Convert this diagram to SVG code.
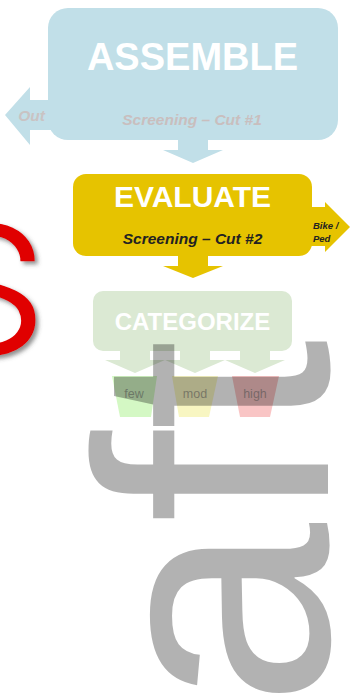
<svg xmlns="http://www.w3.org/2000/svg" width="358" height="699" viewBox="0 0 358 699">
<style>
  .t { font-family: "Liberation Sans", Arial, sans-serif; }
  .title { font-weight: bold; fill: #ffffff; text-anchor: middle; }
  .sub { font-weight: bold; font-style: italic; text-anchor: middle; font-size: 15.5px; }
  .lbl { font-size: 12.5px; text-anchor: middle; fill: #6a6a6a; fill-opacity: 0.55; }
  .blue { fill: #c1dfe8; }
  .gold { fill: #e6c300; }
  .green { fill: #dbe9d3; }
</style>
<defs>
  <filter id="shadow" x="-20%" y="-20%" width="150%" height="150%">
    <feDropShadow dx="3" dy="3" stdDeviation="2" flood-color="#444" flood-opacity="0.6"/>
  </filter>
</defs>

<g id="redMark">
  <text x="49" y="354" text-anchor="end" font-family="Roboto, 'Liberation Sans', sans-serif" font-weight="300" font-size="244" fill="#e00000" filter="url(#shadow)">s</text>
</g>

<g id="connectors">
  <polygon class="blue" points="60,100 30,100 30,87 5,115 30,145 30,130 60,130"/>
  <polygon class="blue" points="178,138 208,138 208,150 223,150 193,163 163,150 178,150"/>
  <polygon class="gold" points="300,207 325,207 325,202 350,227 325,252 325,246 300,246"/>
  <polygon class="gold" points="178,254 208,254 208,266 223,266 193,278 163,266 178,266"/>
  <rect class="green" x="120" y="349" width="30" height="12"/>
  <rect class="green" x="180" y="349" width="30" height="12"/>
  <rect class="green" x="240" y="349" width="30" height="12"/>
  <polygon class="green" points="105,360 165,360 135,373"/>
  <polygon class="green" points="165,360 225,360 195,373"/>
  <polygon class="green" points="225,360 285,360 255,373"/>
</g>

<g id="assemble">
  <rect class="blue" x="48" y="8" width="290" height="132" rx="20"/>
  <text class="t title" x="192.5" y="70" font-size="38">ASSEMBLE</text>
  <text class="t sub" x="192" y="125" fill="#c9bebe">Screening – Cut #1</text>
  <text class="t sub" x="31.5" y="121" fill="#c9c3c3">Out</text>
</g>

<g id="evaluate">
  <rect class="gold" x="73" y="174" width="239" height="82" rx="13"/>
  <text class="t title" x="192.5" y="207" font-size="30">EVALUATE</text>
  <text class="t sub" x="192.5" y="244" fill="#222222">Screening – Cut #2</text>
  <text class="t" x="313" y="229" font-size="9.5" font-weight="bold" font-style="italic" fill="#222222">Bike /</text>
  <text class="t" x="313" y="242" font-size="9.5" font-weight="bold" font-style="italic" fill="#222222">Ped</text>
</g>

<g id="categorize">
  <rect class="green" x="93" y="291" width="199" height="60" rx="10"/>
  <text class="t title" x="192.5" y="330" font-size="24">CATEGORIZE</text>
</g>

<g id="few">
  <polygon points="112,376 157,376 151,417 120,417" fill="#d4f8c4"/>
  <text class="t lbl" x="134" y="398">few</text>
</g>
<g id="mod">
  <polygon points="172,376 218,376 209,417 179,417" fill="#f8f6c2"/>
  <text class="t lbl" x="195" y="398">mod</text>
</g>
<g id="high">
  <polygon points="232,376 279,376 270,417 240,417" fill="#f9c5c5"/>
  <text class="t lbl" x="255" y="398">high</text>
</g>

<g id="watermark">
  <text class="t" transform="translate(328,707) rotate(-90)" font-size="331" fill="#000000" fill-opacity="0.3">aft</text>
</g>
</svg>
